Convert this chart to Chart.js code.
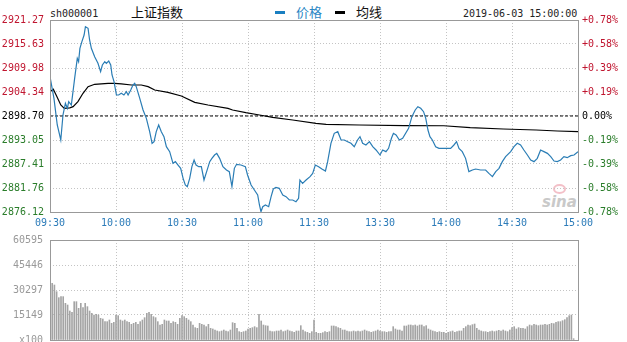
<!DOCTYPE html>
<html>
<head>
<meta charset="utf-8">
<script src="https://cdn.jsdelivr.net/npm/chart.js@4"></script>
<style>
body{margin:0;background:#fff;width:627px;height:342px;position:relative;overflow:hidden;font-family:"DejaVu Sans Mono",monospace;}
.t{position:absolute;white-space:nowrap;line-height:1;}
.cjk{font-family:"Noto Sans CJK SC",sans-serif;font-size:13px;}
#c1{position:absolute;left:0;top:0;}
#c2{position:absolute;left:0;top:232px;}
</style>
</head>
<body>
<div class="t" style="left:50px;top:9px;font-size:10px;color:#222">sh000001</div>
<div class="t cjk" style="left:131px;top:5px;color:#111">上证指数</div>
<div class="t" style="left:275px;top:11px;width:10px;height:3px;background:#1a7fc1"></div>
<div class="t cjk" style="left:296px;top:5px;color:#2a86c4">价格</div>
<div class="t" style="left:335px;top:11px;width:10px;height:3px;background:#000"></div>
<div class="t cjk" style="left:356px;top:5px;color:#111">均线</div>
<div class="t" style="left:463px;top:9px;font-size:10px;color:#222">2019-06-03 15:00:00</div>
<div class="t" style="left:553px;top:184px;width:9px;height:6px;border:2px solid #f3c0c8;border-radius:50%"></div>
<div class="t" style="left:542px;top:193px;font:italic bold 15px 'DejaVu Sans',sans-serif;color:#c9c9c9">sina</div>
<canvas id="c1" width="627" height="232"></canvas>
<canvas id="c2" width="627" height="110"></canvas>
<script>
// 时间轴 (分钟, 0 = 09:30, 240 = 15:00)
var xTicks = [0, 30, 60, 90, 120, 150, 180, 210, 240];
var timeLabels = ['09:30', '10:00', '10:30', '11:00', '11:30', '13:30', '14:00', '14:30', '15:00'];

// 价格轴
var priceTicks = [2876.12, 2881.76, 2887.41, 2893.05, 2898.70, 2904.34, 2909.98, 2915.63, 2921.27];
var pctLabels = ['-0.78%', '-0.58%', '-0.39%', '-0.19%', '0.00%', '+0.19%', '+0.39%', '+0.58%', '+0.78%'];
var prevClose = 2898.70;

// 价格
var priceMin = [0, 1.8, 3.3, 4.9, 5.9, 7.0, 7.9, 8.5, 9.7, 11.2, 12.4, 13.0, 13.6, 14.5, 15.5, 16.1, 17.3, 18.0, 18.8, 20.3,
  21.8, 23.0, 23.8, 24.9, 25.6, 26.7, 27.6, 28.2, 29.1, 30.2, 31.2, 32.4, 33.6, 34.7, 35.5, 36.7, 37.7, 38.5, 39.2, 40.8,
  42.3, 43.8, 45.3, 46.4, 47.3, 48.3, 49.4, 50.6, 51.8, 52.9, 54.4, 55.9, 57.0, 58.2, 59.4, 60.5, 61.5, 62.4, 63.5, 64.5,
  65.5, 66.4, 67.6, 68.8, 70.0, 71.2, 72.6, 73.6, 74.8, 75.8, 77.1, 78.6, 80.2, 81.5, 82.7, 83.8, 84.8, 86.8, 88.8, 89.8,
  91.4, 92.9, 94.4, 95.2, 95.9, 96.7, 97.9, 99.4, 100.5, 101.5, 102.7, 104.2, 105.8, 107.3, 108.8, 110.3, 111.8, 113.0, 113.6, 114.8,
  116.4, 118.2, 119.4, 120.6, 122.1, 123.6, 125.2, 126.2, 127.7, 129.2, 130.8, 132.3, 133.8, 135.3, 136.8, 138.3, 139.8, 140.9, 142.1, 143.6,
  145.2, 146.7, 148.2, 150.0, 151.2, 152.7, 153.9, 155.2, 156.1, 157.3, 158.8, 160.3, 163.0, 164.5, 166.0, 167.2, 168.5, 169.8, 170.8, 171.8,
  172.7, 173.8, 175.3, 176.8, 179.8, 182.1, 183.6, 184.8, 185.9, 187.4, 188.9, 190.4, 192.0, 193.5, 195.7, 198.0, 199.5, 201.1, 202.6, 204.1,
  205.6, 207.1, 209.4, 210.9, 212.4, 213.9, 215.4, 217.0, 218.5, 220.0, 221.5, 223.0, 224.5, 226.1, 227.6, 229.1, 230.6, 232.1, 233.6, 235.1,
  236.7, 238.2, 240];
var priceVal = [2907.94, 2902.85, 2896.58, 2893.05, 2898.93, 2901.67, 2900.50, 2902.07, 2901.28, 2907.55, 2912.26, 2911.47, 2914.61, 2916.18, 2917.74, 2919.70, 2919.31, 2916.57, 2914.61, 2912.65,
  2911.08, 2909.12, 2910.69, 2911.47, 2911.08, 2911.63, 2910.69, 2908.34, 2906.77, 2903.63, 2903.63, 2904.03, 2903.63, 2904.42, 2903.63, 2904.81, 2905.99, 2906.38, 2905.59, 2902.85,
  2900.11, 2898.15, 2895.01, 2892.27, 2892.66, 2895.01, 2896.58, 2895.01, 2893.84, 2891.48, 2890.31, 2887.56, 2887.96, 2887.17, 2886.39, 2884.04, 2882.47, 2882.08, 2884.04, 2886.78,
  2888.35, 2887.17, 2886.78, 2886.78, 2883.65, 2885.61, 2887.96, 2888.74, 2889.52, 2889.91, 2888.74, 2886.78, 2886.00, 2885.61, 2882.08, 2886.39, 2887.33, 2887.17, 2886.78, 2884.82,
  2882.47, 2881.29, 2880.12, 2877.77, 2876.19, 2877.37, 2877.77, 2877.37, 2879.73, 2881.53, 2881.92, 2881.69, 2880.12, 2879.73, 2878.94, 2878.94, 2878.55, 2879.34, 2883.65, 2882.86,
  2883.65, 2884.43, 2885.21, 2887.17, 2886.78, 2886.23, 2885.76, 2887.96, 2892.27, 2894.62, 2895.01, 2893.05, 2893.05, 2892.66, 2892.27, 2891.48, 2893.05, 2893.84, 2892.27, 2891.88,
  2892.66, 2891.48, 2890.70, 2889.52, 2890.70, 2890.31, 2891.09, 2893.45, 2894.62, 2894.23, 2893.05, 2893.45, 2895.80, 2898.54, 2900.11, 2900.89, 2900.50, 2899.71, 2898.15, 2895.40,
  2893.84, 2893.05, 2891.48, 2891.09, 2891.09, 2891.09, 2891.88, 2892.66, 2891.09, 2890.31, 2888.74, 2885.61, 2886.00, 2886.23, 2886.00, 2886.00, 2885.21, 2884.43, 2885.61, 2886.39,
  2887.96, 2889.13, 2890.31, 2891.48, 2892.27, 2891.88, 2890.70, 2889.52, 2888.35, 2887.96, 2888.74, 2890.70, 2890.31, 2889.91, 2889.13, 2888.11, 2887.96, 2888.35, 2889.13, 2888.90,
  2889.37, 2889.52, 2890.31];

// 均线
var avgMin = [0, 1.5, 3, 4.9, 6.5, 9, 10.5, 12.7, 15, 17.3, 20.3, 26.4, 29.4, 32.4, 37, 41.5, 44.6, 47.6, 53.6, 59.7,
  65.8, 71.8, 80.9, 83, 89, 95.2, 101.2, 110.3, 120.9, 125.5, 140.6, 161, 179, 191, 206, 221, 230.6, 240];
var avgVal = [2904.42, 2905.00, 2903.40, 2901.28, 2900.50, 2900.60, 2900.90, 2902.07, 2904.03, 2905.60, 2906.15, 2906.38, 2906.38, 2906.23, 2905.99, 2905.99, 2905.59, 2904.81, 2904.26, 2903.39,
  2901.91, 2901.28, 2900.50, 2900.10, 2899.48, 2898.93, 2898.38, 2897.75, 2896.97, 2896.74, 2896.58, 2896.45, 2896.40, 2895.95, 2895.64, 2895.40, 2895.17, 2895.01];

// 成交量 (x100), 从第 1 分钟开始
var volTicks = [0, 15149, 30297, 45446, 60595];
var volStart = 1;
var volume = [34340, 33330, 29290, 25650, 26260, 26260, 22220, 21210, 17570, 16760,
  23230, 23230, 19190, 22220, 19590, 22220, 20200, 17570, 16160, 15150,
  15550, 15150, 13130, 12730, 11110, 11110, 12120, 10100, 10710, 15150,
  14750, 12120, 11520, 12120, 11110, 10710, 9490, 10100, 10710, 9490,
  11110, 12120, 13530, 16160, 16760, 15550, 14140, 13530, 11110, 9090,
  9490, 12120, 11520, 11520, 10100, 11110, 10710, 9490, 13130, 14750,
  14140, 13130, 12120, 11110, 9090, 7480, 7070, 10100, 9490, 9090,
  8080, 9490,
  7070, 6670, 6060, 5460, 5050, 5460, 6060, 5460, 5050, 6060,
  10500, 10100, 7070, 5050, 4650, 5050, 5460, 6670, 7070, 7480, 8080, 7480,
  15550, 11520, 9090, 8690, 8490,
  5460, 5050, 5050, 5460, 5460, 6060, 5050, 5460, 6060, 5460, 5050, 4650, 5460,
  5460, 8690, 6060, 5050, 4650, 4040, 5050, 12120,
  4650, 4040, 4040, 4450, 5050, 4650, 5050, 8490, 8490, 8080,
  7480, 7070, 6060, 6060, 5460, 5050, 5050, 5460, 5050, 5460, 5050, 5460, 6060,
  5460, 5050, 4650, 5050, 5460, 6060, 5460, 5050, 5050, 4650, 5050, 5050, 8080,
  6670, 6060, 6060, 5460, 8490, 8490, 9090, 9090, 8690, 9090, 8490, 9090,
  9090, 8080, 8690,
  6670, 6060, 5460, 5050, 4650, 5050, 4650, 4650, 4040, 4650, 5050, 5460, 4650, 5050, 5460, 5460,
  7070, 8080, 9090, 8690, 9290, 9690,
  7070, 6060, 5460, 5050, 5050, 4650, 5050, 5460, 5050, 5460, 5860, 5460, 6060, 5460, 5050, 6060,
  7480, 8080, 6670, 7480, 7070, 7070,
  6670, 8080, 9090, 8690, 9490, 9090, 8690, 9090, 9090, 9490, 9090, 9490, 10100, 9900, 10710, 11110,
  11110, 11720, 12320, 13530, 14750, 15150, 800];

Chart.defaults.font.family = '"DejaVu Sans Mono", monospace';
Chart.defaults.font.size = 10;

var RED = '#c0152f', GREEN = '#2a7d2a', GRID = '#c4c4c4';

function xy(xs, ys) {
  return xs.map(function (x, i) { return {x: x, y: ys[i]}; });
}

// 图框
var frame = {
  id: 'frame',
  afterDatasetsDraw: function (chart) {
    var a = chart.chartArea, c = chart.ctx;
    c.save();
    c.setLineDash([]);
    c.strokeStyle = '#999';
    c.lineWidth = 1;
    c.strokeRect(Math.round(a.left) + 0.5, Math.round(a.top) + 0.5, Math.round(a.right - a.left), Math.round(a.bottom - a.top));
    c.restore();
  }
};

var setTicks = function (list) {
  return function (s) { s.ticks = list.map(function (v) { return {value: v}; }); };
};

//分时图
new Chart(document.getElementById('c1'), {
  type: 'line',
  data: {
    datasets: [
      {label: '价格', data: xy(priceMin, priceVal), borderColor: '#2a7db5', borderWidth: 1.2, pointRadius: 0, tension: 0},
      {label: '均线', data: xy(avgMin, avgVal), borderColor: '#000', borderWidth: 1.2, pointRadius: 0, tension: 0},
      {label: '昨收', data: [{x: 0, y: prevClose}, {x: 240, y: prevClose}], borderColor: '#000', borderWidth: 1, borderDash: [3, 2], pointRadius: 0}
    ]
  },
  options: {
    responsive: false,
    animation: false,
    layout: {padding: {top: 20}},
    plugins: {legend: {display: false}, tooltip: {enabled: false}},
    scales: {
      x: {
        type: 'linear', min: 0, max: 240,
        afterBuildTicks: setTicks(xTicks),
        afterFit: function (s) { s.height = 20; },
        grid: {color: GRID, drawTicks: false},
        border: {display: false, dash: [1, 2]},
        ticks: {color: '#2b7bb9', padding: 5, maxRotation: 0, autoSkip: false,
          callback: function (v, i) { return timeLabels[i]; }}
      },
      y: {
        position: 'left', min: priceTicks[0], max: priceTicks[priceTicks.length - 1],
        afterBuildTicks: setTicks(priceTicks),
        afterFit: function (s) { s.width = 50; },
        grid: {color: GRID, drawTicks: false},
        border: {display: false, dash: [1, 2]},
        ticks: {padding: 6, autoSkip: false,
          color: function (c) { return c.index < 4 ? GREEN : (c.index === 4 ? '#000' : RED); },
          callback: function (v) { return v.toFixed(2); }}
      },
      yR: {
        position: 'right', min: priceTicks[0], max: priceTicks[priceTicks.length - 1],
        afterBuildTicks: setTicks(priceTicks),
        afterFit: function (s) { s.width = 49; },
        grid: {display: false, drawTicks: false},
        border: {display: false},
        ticks: {padding: 4, autoSkip: false,
          color: function (c) { return c.index < 4 ? GREEN : (c.index === 4 ? '#000' : RED); },
          callback: function (v, i) { return pctLabels[i]; }}
      }
    }
  },
  plugins: [frame]
});

//成交量
var volCanvas = document.getElementById('c2');
var volChart = new Chart(volCanvas, {
  type: 'bar',
  data: {
    datasets: [{
      label: '成交量',
      data: volume.map(function (v, i) { return {x: i + volStart, y: v}; }),
      backgroundColor: '#a4a4a4',
      barThickness: 1
    }]
  },
  options: {
    responsive: false,
    maintainAspectRatio: false,
    animation: false,
    layout: {padding: {top: 0, bottom: 0, right: 49}},
    plugins: {legend: {display: false}, tooltip: {enabled: false}},
    scales: {
      x: {
        type: 'linear', min: 0, max: 240, offset: false,
        afterBuildTicks: setTicks(xTicks),
        afterFit: function (s) { s.height = 0; },
        grid: {color: GRID, drawTicks: false, offset: false},
        border: {display: false, dash: [1, 2]},
        ticks: {display: false}
      },
      y: {
        min: 0, max: volTicks[volTicks.length - 1],
        afterBuildTicks: setTicks(volTicks),
        afterFit: function (s) { s.width = 50; },
        grid: {color: GRID, drawTicks: false},
        border: {display: false, dash: [1, 2]},
        ticks: {color: '#999', padding: 7, autoSkip: false,
          callback: function (v, i) { return i === 0 ? 'x100' : String(v); }}
      }
    }
  },
  plugins: [frame]
});

// 让成交量图区落在 240-340 (超出部分由 body 裁掉)
var area = volChart.chartArea;
var gapTop = area.top, gapBottom = volCanvas.height - area.bottom;
volCanvas.style.top = Math.round(240 - gapTop) + 'px';
volChart.resize(627, Math.round(gapTop + 100 + gapBottom));
</script>
</body>
</html>
